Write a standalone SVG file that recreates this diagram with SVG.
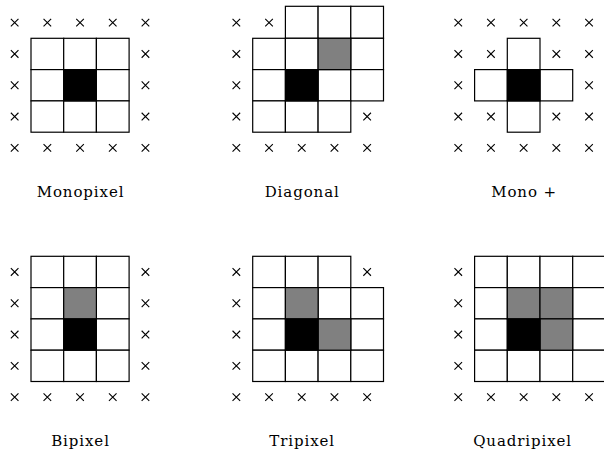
<svg xmlns="http://www.w3.org/2000/svg" width="604" height="452" viewBox="0 0 604 452">
<style>
.c{fill:#fff;stroke:#000;stroke-width:1.2}
.g{fill:#808080;stroke:#000;stroke-width:1.2}
.k{fill:#000;stroke:#000;stroke-width:1.2}
.x{fill:none;stroke:#000;stroke-width:1.1}
.lbl{font-family:"DejaVu Serif",serif;font-size:15px;letter-spacing:0.9px;text-anchor:middle;fill:#000}
</style>
<defs>
<path id="cr" class="x" d="M-3.8,-3.8L3.8,3.8M3.8,-3.8L-3.8,3.8"/>
<rect id="cw" class="c" width="32.7" height="31.3"/>
<rect id="cg" class="g" width="32.7" height="31.3"/>
<rect id="ck" class="k" width="32.7" height="31.3"/>
</defs>
<rect width="604" height="452" fill="#fff"/>

<g id="monopixel">
<use href="#cw" x="31" y="38.3"/><use href="#cw" x="63.7" y="38.3"/><use href="#cw" x="96.4" y="38.3"/>
<use href="#cw" x="31" y="69.6"/><use href="#cw" x="96.4" y="69.6"/>
<use href="#cw" x="31" y="100.9"/><use href="#cw" x="63.7" y="100.9"/><use href="#cw" x="96.4" y="100.9"/>
<use href="#ck" x="63.7" y="69.6"/>
<g>
<use href="#cr" x="14.65" y="22.65"/><use href="#cr" x="47.35" y="22.65"/><use href="#cr" x="80.05" y="22.65"/><use href="#cr" x="112.75" y="22.65"/><use href="#cr" x="145.45" y="22.65"/>
<use href="#cr" x="14.65" y="53.95"/><use href="#cr" x="145.45" y="53.95"/>
<use href="#cr" x="14.65" y="85.25"/><use href="#cr" x="145.45" y="85.25"/>
<use href="#cr" x="14.65" y="116.55"/><use href="#cr" x="145.45" y="116.55"/>
<use href="#cr" x="14.65" y="147.85"/><use href="#cr" x="47.35" y="147.85"/><use href="#cr" x="80.05" y="147.85"/><use href="#cr" x="112.75" y="147.85"/><use href="#cr" x="145.45" y="147.85"/>
</g>
<text class="lbl" x="80.5" y="197">Monopixel</text>
</g>

<g id="diagonal" transform="translate(221.7,0)">
<rect class="c" x="63.7" y="6.3" width="32.7" height="32"/><rect class="c" x="96.4" y="6.3" width="32.7" height="32"/><rect class="c" x="129.1" y="6.3" width="32.7" height="32"/>
<use href="#cw" x="31" y="38.3"/><use href="#cw" x="63.7" y="38.3"/><use href="#cw" x="129.1" y="38.3"/>
<use href="#cw" x="31" y="69.6"/><use href="#cw" x="96.4" y="69.6"/><use href="#cw" x="129.1" y="69.6"/>
<use href="#cw" x="31" y="100.9"/><use href="#cw" x="63.7" y="100.9"/><use href="#cw" x="96.4" y="100.9"/>
<use href="#cg" x="96.4" y="38.3"/>
<use href="#ck" x="63.7" y="69.6"/>
<g>
<use href="#cr" x="14.65" y="22.65"/><use href="#cr" x="47.35" y="22.65"/>
<use href="#cr" x="14.65" y="53.95"/>
<use href="#cr" x="14.65" y="85.25"/>
<use href="#cr" x="14.65" y="116.55"/><use href="#cr" x="145.45" y="116.55"/>
<use href="#cr" x="14.65" y="147.85"/><use href="#cr" x="47.35" y="147.85"/><use href="#cr" x="80.05" y="147.85"/><use href="#cr" x="112.75" y="147.85"/><use href="#cr" x="145.45" y="147.85"/>
</g>
<text class="lbl" x="80.5" y="197">Diagonal</text>
</g>

<g id="mono-plus" transform="translate(443.6,0)">
<use href="#cw" x="63.7" y="38.3"/>
<use href="#cw" x="31" y="69.6"/><use href="#cw" x="96.4" y="69.6"/>
<use href="#cw" x="63.7" y="100.9"/>
<use href="#ck" x="63.7" y="69.6"/>
<g>
<use href="#cr" x="14.65" y="22.65"/><use href="#cr" x="47.35" y="22.65"/><use href="#cr" x="80.05" y="22.65"/><use href="#cr" x="112.75" y="22.65"/><use href="#cr" x="145.45" y="22.65"/>
<use href="#cr" x="14.65" y="53.95"/><use href="#cr" x="47.35" y="53.95"/><use href="#cr" x="112.75" y="53.95"/><use href="#cr" x="145.45" y="53.95"/>
<use href="#cr" x="14.65" y="85.25"/><use href="#cr" x="145.45" y="85.25"/>
<use href="#cr" x="14.65" y="116.55"/><use href="#cr" x="47.35" y="116.55"/><use href="#cr" x="112.75" y="116.55"/><use href="#cr" x="145.45" y="116.55"/>
<use href="#cr" x="14.65" y="147.85"/><use href="#cr" x="47.35" y="147.85"/><use href="#cr" x="80.05" y="147.85"/><use href="#cr" x="112.75" y="147.85"/><use href="#cr" x="145.45" y="147.85"/>
</g>
<text class="lbl" x="80.5" y="197">Mono +</text>
</g>

<g id="bipixel" transform="translate(0,249.3)">
<use href="#cw" x="31" y="7"/><use href="#cw" x="63.7" y="7"/><use href="#cw" x="96.4" y="7"/>
<use href="#cw" x="31" y="38.3"/><use href="#cw" x="96.4" y="38.3"/>
<use href="#cw" x="31" y="69.6"/><use href="#cw" x="96.4" y="69.6"/>
<use href="#cw" x="31" y="100.9"/><use href="#cw" x="63.7" y="100.9"/><use href="#cw" x="96.4" y="100.9"/>
<use href="#cg" x="63.7" y="38.3"/>
<use href="#ck" x="63.7" y="69.6"/>
<g>
<use href="#cr" x="14.65" y="22.65"/><use href="#cr" x="145.45" y="22.65"/>
<use href="#cr" x="14.65" y="53.95"/><use href="#cr" x="145.45" y="53.95"/>
<use href="#cr" x="14.65" y="85.25"/><use href="#cr" x="145.45" y="85.25"/>
<use href="#cr" x="14.65" y="116.55"/><use href="#cr" x="145.45" y="116.55"/>
<use href="#cr" x="14.65" y="147.85"/><use href="#cr" x="47.35" y="147.85"/><use href="#cr" x="80.05" y="147.85"/><use href="#cr" x="112.75" y="147.85"/><use href="#cr" x="145.45" y="147.85"/>
</g>
<text class="lbl" x="80.5" y="197">Bipixel</text>
</g>

<g id="tripixel" transform="translate(221.7,249.3)">
<use href="#cw" x="31" y="7"/><use href="#cw" x="63.7" y="7"/><use href="#cw" x="96.4" y="7"/>
<use href="#cw" x="31" y="38.3"/><use href="#cw" x="96.4" y="38.3"/><use href="#cw" x="129.1" y="38.3"/>
<use href="#cw" x="31" y="69.6"/><use href="#cw" x="129.1" y="69.6"/>
<use href="#cw" x="31" y="100.9"/><use href="#cw" x="63.7" y="100.9"/><use href="#cw" x="96.4" y="100.9"/><use href="#cw" x="129.1" y="100.9"/>
<use href="#cg" x="63.7" y="38.3"/><use href="#cg" x="96.4" y="69.6"/>
<use href="#ck" x="63.7" y="69.6"/>
<g>
<use href="#cr" x="14.65" y="22.65"/><use href="#cr" x="145.45" y="22.65"/>
<use href="#cr" x="14.65" y="53.95"/>
<use href="#cr" x="14.65" y="85.25"/>
<use href="#cr" x="14.65" y="116.55"/>
<use href="#cr" x="14.65" y="147.85"/><use href="#cr" x="47.35" y="147.85"/><use href="#cr" x="80.05" y="147.85"/><use href="#cr" x="112.75" y="147.85"/><use href="#cr" x="145.45" y="147.85"/>
</g>
<text class="lbl" x="80.5" y="197">Tripixel</text>
</g>

<g id="quadripixel" transform="translate(443.6,249.3)">
<use href="#cw" x="31" y="7"/><use href="#cw" x="63.7" y="7"/><use href="#cw" x="96.4" y="7"/><use href="#cw" x="129.1" y="7"/>
<use href="#cw" x="31" y="38.3"/><use href="#cw" x="129.1" y="38.3"/>
<use href="#cw" x="31" y="69.6"/><use href="#cw" x="129.1" y="69.6"/>
<use href="#cw" x="31" y="100.9"/><use href="#cw" x="63.7" y="100.9"/><use href="#cw" x="96.4" y="100.9"/><use href="#cw" x="129.1" y="100.9"/>
<use href="#cg" x="63.7" y="38.3"/><use href="#cg" x="96.4" y="38.3"/><use href="#cg" x="96.4" y="69.6"/>
<use href="#ck" x="63.7" y="69.6"/>
<g>
<use href="#cr" x="14.65" y="22.65"/>
<use href="#cr" x="14.65" y="53.95"/>
<use href="#cr" x="14.65" y="85.25"/>
<use href="#cr" x="14.65" y="116.55"/>
<use href="#cr" x="14.65" y="147.85"/><use href="#cr" x="47.35" y="147.85"/><use href="#cr" x="80.05" y="147.85"/><use href="#cr" x="112.75" y="147.85"/><use href="#cr" x="145.45" y="147.85"/>
</g>
<text class="lbl" x="79" y="197">Quadripixel</text>
</g>
</svg>
